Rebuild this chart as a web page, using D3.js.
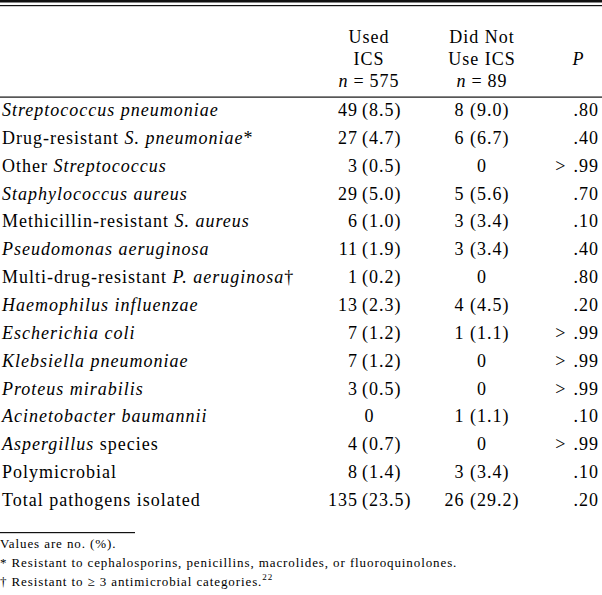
<!DOCTYPE html>
<html>
<head>
<meta charset="utf-8">
<script src="https://cdn.jsdelivr.net/npm/d3@7"></script>
<style>
  html, body { margin: 0; padding: 0; background: #fff; }
  svg { display: block; }
  text { font-family: "Liberation Serif", "Times New Roman", serif; fill: #000; }
</style>
</head>
<body>
<svg id="chart" width="602" height="595"></svg>
<script>
// ---- data ----
// label segments: text wrapped in _..._ is italic
const organisms = [
  "_Streptococcus pneumoniae_",
  "Drug-resistant _S. pneumoniae_*",
  "Other _Streptococcus_",
  "_Staphylococcus aureus_",
  "Methicillin-resistant _S. aureus_",
  "_Pseudomonas aeruginosa_",
  "Multi-drug-resistant _P. aeruginosa_†",
  "_Haemophilus influenzae_",
  "_Escherichia coli_",
  "_Klebsiella pneumoniae_",
  "_Proteus mirabilis_",
  "_Acinetobacter baumannii_",
  "_Aspergillus_ species",
  "Polymicrobial",
  "Total pathogens isolated"
];
const usedCount  = [49, 27, 3, 29, 6, 11, 1, 13, 7, 7, 3, 0, 4, 8, 135];
const usedPct    = ["8.5", "4.7", "0.5", "5.0", "1.0", "1.9", "0.2", "2.3", "1.2", "1.2", "0.5", null, "0.7", "1.4", "23.5"];
const notCount   = [8, 6, 0, 5, 3, 3, 0, 4, 1, 0, 0, 1, 0, 3, 26];
const notPct     = ["9.0", "6.7", null, "5.6", "3.4", "3.4", null, "4.5", "1.1", null, null, "1.1", null, "3.4", "29.2"];
const pValues    = [".80", ".40", "> .99", ".70", ".10", ".40", ".80", ".20", "> .99", "> .99", "> .99", ".10", "> .99", ".10", ".20"];
const headerUsed = ["Used", "ICS", "n = 575"];
const headerNot  = ["Did Not", "Use ICS", "n = 89"];
const headerP    = "P";
const footnotes  = [
  "Values are no. (%).",
  "* Resistant to cephalosporins, penicillins, macrolides, or fluoroquinolones.",
  "† Resistant to ≥ 3 antimicrobial categories.^22"
];

// ---- layout ----
const W = 602;
const svg = d3.select("#chart");
const fs = 18;
const ls = 1;

const y = d3.scalePoint().domain(d3.range(organisms.length)).range([116, 506]);

// rules
svg.append("rect").attr("x", 0).attr("y", 0).attr("width", W).attr("height", 2.5).attr("fill", "#111");
svg.append("rect").attr("x", 0).attr("y", 5).attr("width", W).attr("height", 1.2).attr("fill", "#111");
svg.append("rect").attr("x", 0).attr("y", 96.5).attr("width", W).attr("height", 1.2).attr("fill", "#111");
svg.append("rect").attr("x", 0).attr("y", 532).attr("width", 135).attr("height", 1.2).attr("fill", "#111");

// header
function headerLine(sel, str) {
  const m = str.match(/^n = (.*)$/);
  if (m) {
    sel.append("tspan").attr("font-style", "italic").text("n");
    sel.append("tspan").attr("dx", 5).text("=");
    sel.append("tspan").attr("dx", 5).text(m[1]);
  } else sel.text(str);
}
const hy = [43, 65, 87];
headerUsed.forEach((s, i) => {
  const t = svg.append("text").attr("x", 369).attr("y", hy[i]).attr("text-anchor", "middle")
    .attr("font-size", fs).attr("letter-spacing", ls);
  headerLine(t, s);
});
headerNot.forEach((s, i) => {
  const t = svg.append("text").attr("x", 482).attr("y", hy[i]).attr("text-anchor", "middle")
    .attr("font-size", fs).attr("letter-spacing", ls);
  headerLine(t, s);
});
svg.append("text").attr("x", 578).attr("y", hy[1]).attr("text-anchor", "middle")
  .attr("font-size", fs).attr("font-style", "italic").text(headerP);

// rows
const rows = svg.append("g").selectAll("g").data(organisms).join("g")
  .attr("transform", (d, i) => `translate(0,${y(i)})`);

rows.append("text").attr("x", 2).attr("font-size", fs).attr("letter-spacing", ls).each(function(d) {
  const t = d3.select(this);
  d.split(/(_[^_]+_)/).filter(s => s.length).forEach(seg => {
    if (seg.startsWith("_")) t.append("tspan").attr("font-style", "italic").text(seg.slice(1, -1));
    else t.append("tspan").text(seg);
  });
});

rows.each(function(d, i) {
  const g = d3.select(this);
  // used column: aligned on the opening parenthesis
  if (usedPct[i] === null) {
    g.append("text").attr("x", 369).attr("text-anchor", "middle").attr("font-size", fs).text(usedCount[i]);
  } else {
    g.append("text").attr("x", 358).attr("text-anchor", "end").attr("font-size", fs)
      .attr("letter-spacing", ls).text(usedCount[i]);
    g.append("text").attr("x", 362).attr("text-anchor", "start").attr("font-size", fs)
      .attr("letter-spacing", ls).text(`(${usedPct[i]})`);
  }
  const notStr = notPct[i] === null ? `${notCount[i]}` : `${notCount[i]} (${notPct[i]})`;
  g.append("text").attr("x", 482).attr("text-anchor", "middle").attr("font-size", fs)
    .attr("letter-spacing", ls).text(notStr);
  const p = pValues[i];
  const pt = g.append("text").attr("x", 599).attr("text-anchor", "end").attr("font-size", fs)
    .attr("letter-spacing", ls);
  if (p.startsWith(">")) {
    pt.append("tspan").text(">");
    pt.append("tspan").attr("dx", 7).text(p.slice(2));
  } else pt.text(p);
});

// footnotes
const fy = [548, 567, 586];
footnotes.forEach((s, i) => {
  const t = svg.append("text").attr("x", 0).attr("y", fy[i]).attr("font-size", 13)
    .attr("letter-spacing", 0.9);
  const parts = s.split("^");
  t.append("tspan").text(parts[0]);
  if (parts[1]) t.append("tspan").attr("font-size", 9).attr("dy", -6).text(parts[1]);
});
</script>
</body>
</html>
